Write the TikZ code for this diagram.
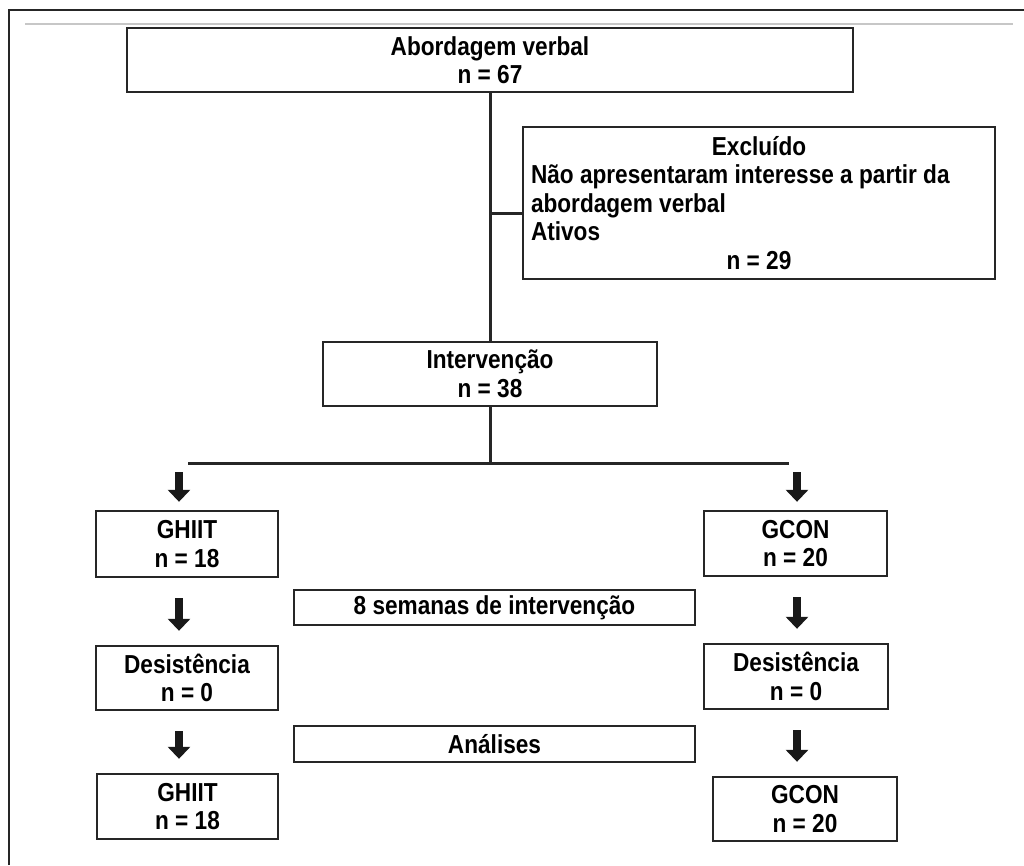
\documentclass[tikz,border=0pt]{standalone}
\usepackage{fontspec}
\setmainfont{Liberation Sans}[FakeStretch=0.87]
\usetikzlibrary{arrows.meta}
\tikzset{
    block/.style = {draw=black!85, line width=2.4pt, rectangle,
        inner sep=0pt, align=center,
        font=\fontsize{26}{28.5}\selectfont\bfseries},
    link/.style = {draw=black!85, line width=3pt},
    blockarrow/.style = {draw=black!90, line width=8pt,
        -{Triangle[width=22pt,length=12pt]}},
    gap/.style = {shorten <=20pt, shorten >=14pt}
}

\begin{document}
\begin{tikzpicture}[x=1pt, y=-1pt]
    \useasboundingbox (0,0) rectangle (1024,865);
    \draw[line width=2.4pt, black!85] (9,865) -- (9,10) -- (1024,10);
    \draw[line width=2pt, black!22] (25,24) -- (1013,24);

    \node[block, minimum width=726pt, minimum height=64pt] (verbal) at (490,60) {Abordagem verbal\\n = 67};
    \node[block, minimum width=472pt, minimum height=152pt, text width=456pt, align=none] (excl) at (759,203)
        {{\centering Excluído\par}
        {\raggedright Não apresentaram interesse a partir da\\
        abordagem verbal\\
        Ativos\par}
        {\centering n = 29\par}};
    \node[block, minimum width=334pt, minimum height=64pt] (inter) at (490,374) {Intervenção\\n = 38};

    \node[block, minimum width=182pt, minimum height=66pt] (ghiitA) at (187,544) {GHIIT\\n = 18};
    \node[block, minimum width=183pt, minimum height=65pt] (gconA) at (795.5,543.5) {GCON\\n = 20};
    \node[block, minimum width=401pt, minimum height=35pt] (weeks) at (494.5,607.5) {8 semanas de intervenção};
    \node[block, minimum width=182pt, minimum height=64pt] (desistA) at (187,678) {Desistência\\n = 0};
    \node[block, minimum width=184pt, minimum height=65pt] (desistB) at (796,676.5) {Desistência\\n = 0};
    \node[block, minimum width=401pt, minimum height=36pt] (analysis) at (494.5,744) {Análises};
    \node[block, minimum width=181pt, minimum height=65pt] (ghiitB) at (187.5,806.5) {GHIIT\\n = 18};
    \node[block, minimum width=184pt, minimum height=64pt] (gconB) at (805,809) {GCON\\n = 20};

    \coordinate (split) at (490,463);
    \coordinate (armL) at (179,463);
    \coordinate (armR) at (797,463);

    \draw[link] (verbal) -- (inter);
    \draw[link] ([yshift=-10pt]excl.west) -- ([yshift=-10pt]excl.west -| verbal.south);
    \draw[link] (inter) -- (split);
    \draw[link, shorten <=9pt, shorten >=8pt] (armL) -- (armR);

    \draw[blockarrow, shorten <=9pt, shorten >=8pt] (armL) -- (armL |- ghiitA.north);
    \draw[blockarrow, shorten <=9pt, shorten >=8pt] (armR) -- (armR |- gconA.north);
    \draw[blockarrow, gap] (armL |- ghiitA.south) -- (armL |- desistA.north);
    \draw[blockarrow, gap] (armR |- gconA.south) -- (armR |- desistB.north);
    \draw[blockarrow, gap] (armL |- desistA.south) -- (armL |- ghiitB.north);
    \draw[blockarrow, gap] (armR |- desistB.south) -- (armR |- gconB.north);
\end{tikzpicture}
\end{document}
